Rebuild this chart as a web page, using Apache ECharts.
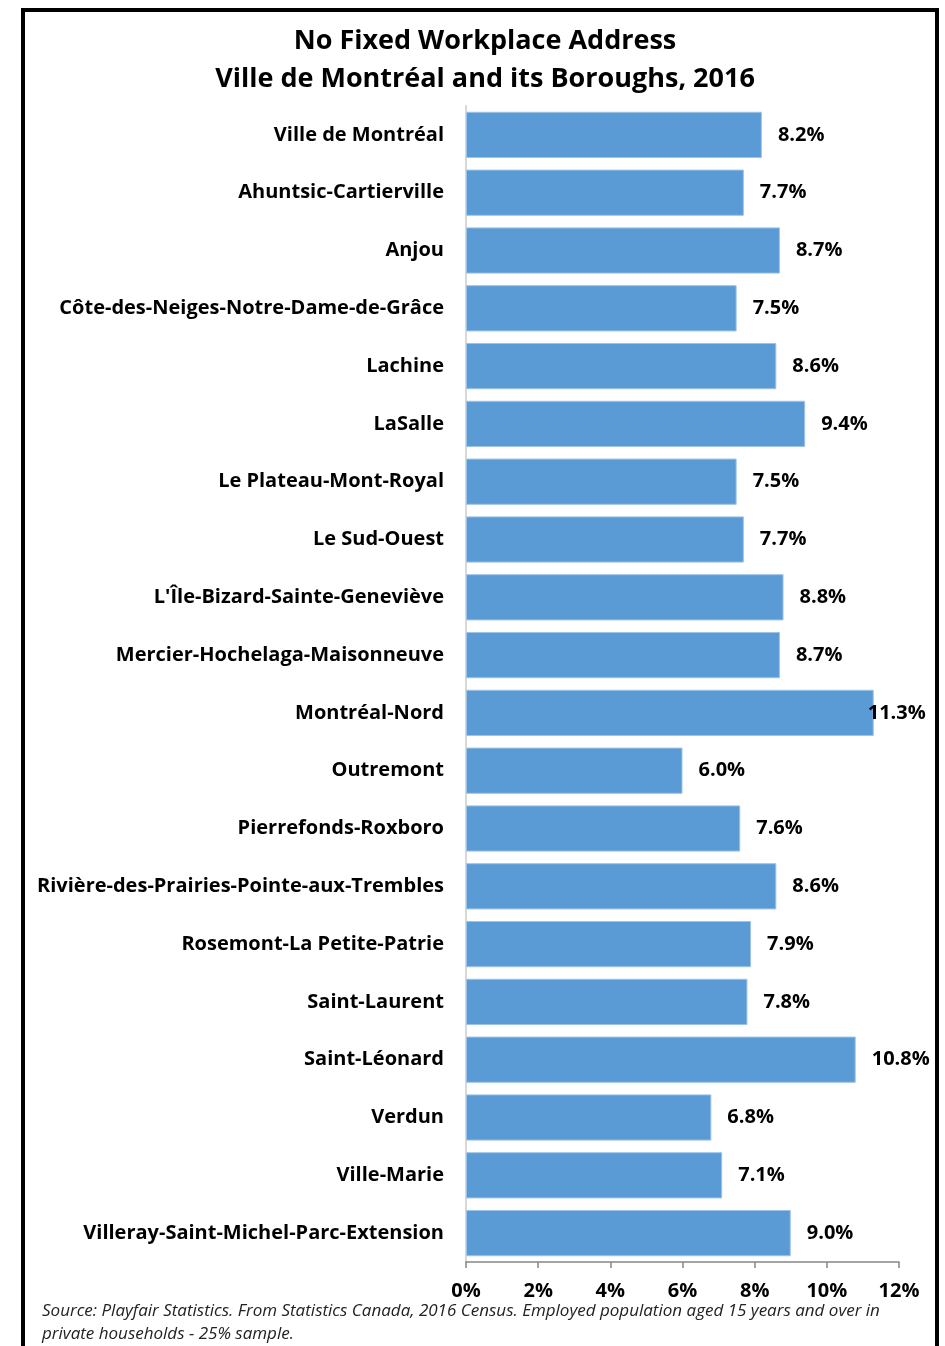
<!DOCTYPE html>
<html>
<head>
<meta charset="utf-8">
<script src="https://cdn.jsdelivr.net/npm/echarts@6/dist/echarts.min.js"></script>
<style>
  html, body { margin: 0; padding: 0; background: #fff; }
  #chart { width: 945px; height: 1346px; }
</style>
</head>
<body>
<div id="chart"></div>
<script>
// categories, top to bottom as in the picture
const boroughs = [
  'Ville de Montréal',
  'Ahuntsic-Cartierville',
  'Anjou',
  'Côte-des-Neiges-Notre-Dame-de-Grâce',
  'Lachine',
  'LaSalle',
  'Le Plateau-Mont-Royal',
  'Le Sud-Ouest',
  "L'Île-Bizard-Sainte-Geneviève",
  'Mercier-Hochelaga-Maisonneuve',
  'Montréal-Nord',
  'Outremont',
  'Pierrefonds-Roxboro',
  'Rivière-des-Prairies-Pointe-aux-Trembles',
  'Rosemont-La Petite-Patrie',
  'Saint-Laurent',
  'Saint-Léonard',
  'Verdun',
  'Ville-Marie',
  'Villeray-Saint-Michel-Parc-Extension'
]
const noFixedPct = [8.2, 7.7, 8.7, 7.5, 8.6, 9.4, 7.5, 7.7, 8.8, 8.7, 11.3, 6.0, 7.6, 8.6, 7.9, 7.8, 10.8, 6.8, 7.1, 9.0]
const xTicks = [0, 2, 4, 6, 8, 10, 12]

const font = '"Open Sans", Lato, sans-serif'
const chart = echarts.init(document.getElementById('chart'))

// Excel pulled the widest label back onto the bar end
const seriesData = noFixedPct.map(function(v) {
  if (v > 11) {
    return { value: v, label: { offset: [-22, 0] } }
  }
  return v
})

chart.setOption({
  backgroundColor: '#fff',
  animation: false,
  title: {
    text: 'No Fixed Workplace Address\nVille de Montréal and its Boroughs, 2016',
    left: 480,
    top: 17,
    textAlign: 'center',
    textStyle: {
      fontFamily: font,
      fontWeight: 'bold',
      fontSize: 27,
      lineHeight: 38,
      color: '#000'
    }
  },
  graphic: [{
    type: 'rect',
    shape: { x: 23, y: 10, width: 914, height: 1400 },
    style: { fill: 'none', stroke: '#000', lineWidth: 4 },
    z: 100
  }, {
    type: 'text',
    left: 42,
    top: 1300,
    style: {
      text: 'Source: Playfair Statistics. From Statistics Canada, 2016 Census. Employed population aged 15 years and over in\nprivate households - 25% sample.',
      font: 'italic 17px ' + font,
      lineHeight: 23,
      fill: '#222'
    }
  }],
  grid: {
    left: 466,
    right: 46,
    top: 106,
    bottom: 84,
    containLabel: false
  },
  xAxis: {
    type: 'value',
    min: 0,
    max: 12,
    interval: 2,
    axisLine: { show: true, lineStyle: { color: '#868686', width: 1.5 } },
    axisTick: { show: true, length: 6, lineStyle: { color: '#868686', width: 1.5 } },
    splitLine: { show: false },
    axisLabel: {
      margin: 19,
      fontFamily: font,
      fontWeight: 'bold',
      fontSize: 20,
      color: '#000',
      formatter: function(v) {
        return xTicks.indexOf(v) >= 0 ? v + '%' : ''
      }
    }
  },
  yAxis: {
    type: 'category',
    inverse: true,
    data: boroughs,
    axisLine: { show: true, lineStyle: { color: '#d9d9d9', width: 2 } },
    axisTick: { show: false },
    axisLabel: {
      margin: 22,
      fontFamily: font,
      fontWeight: 'bold',
      fontSize: 20,
      color: '#000'
    }
  },
  series: [{
    type: 'bar',
    data: seriesData,
    barCategoryGap: '20%',
    itemStyle: {
      color: '#5b9bd5',
      borderColor: '#9dc3e6',
      borderWidth: 1
    },
    label: {
      show: true,
      position: 'right',
      distance: 16,
      fontFamily: font,
      fontWeight: 'bold',
      fontSize: 20,
      color: '#000',
      formatter: function(p) {
        return p.value.toFixed(1) + '%'
      }
    }
  }]
})
</script>
</body>
</html>
